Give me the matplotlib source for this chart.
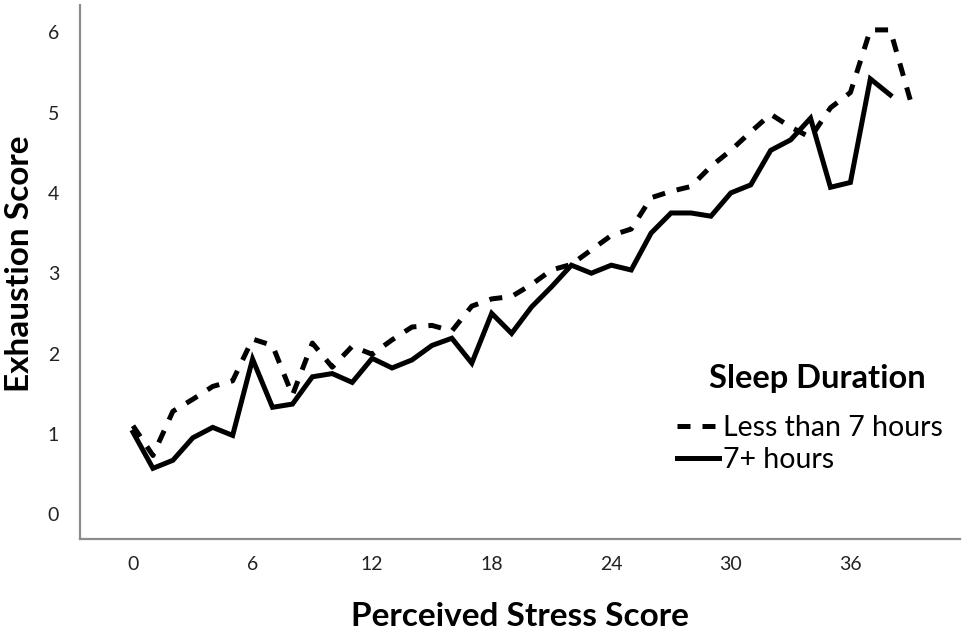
import matplotlib
matplotlib.use("Agg")
import matplotlib.pyplot as plt

plt.rcParams['font.family'] = ['Lato', 'DejaVu Sans']

# Data
stress_less7 = list(range(0, 40))
exhaust_less7 = [1.10, 0.73, 1.28, 1.43, 1.59, 1.66, 2.18, 2.10, 1.48, 2.13,
                 1.83, 2.09, 1.99, 2.17, 2.33, 2.35, 2.28, 2.59, 2.68, 2.71,
                 2.86, 3.04, 3.11, 3.29, 3.47, 3.55, 3.94, 4.02, 4.08, 4.33,
                 4.53, 4.76, 4.98, 4.82, 4.69, 5.06, 5.25, 6.03, 6.03, 5.16]

stress_7plus = list(range(0, 39))
exhaust_7plus = [1.02, 0.57, 0.67, 0.95, 1.08, 0.98, 1.93, 1.33, 1.37, 1.71,
                 1.75, 1.64, 1.94, 1.82, 1.92, 2.10, 2.19, 1.88, 2.50, 2.25,
                 2.58, 2.83, 3.10, 3.00, 3.10, 3.04, 3.50, 3.75, 3.75, 3.71,
                 4.00, 4.10, 4.53, 4.66, 4.93, 4.07, 4.13, 5.42, 5.22]

series_labels = ["Less than 7 hours", "7+ hours"]
legend_title = "Sleep Duration"
x_ticks = [0, 6, 12, 18, 24, 30, 36]
y_ticks = [0, 1, 2, 3, 4, 5, 6]

fig = plt.figure(figsize=(9.69, 6.38), dpi=100)
ax = fig.add_axes([80/969, (638-539)/638, 880/969, 534/638])

ax.plot(stress_less7, exhaust_less7, color='black', lw=3.6,
        linestyle=(0, (2.6, 2.4)), dash_capstyle='butt', solid_joinstyle='miter',
        label=series_labels[0])
ax.plot(stress_7plus, exhaust_7plus, color='black', lw=3.6, linestyle='-',
        solid_joinstyle='miter', label=series_labels[1])

ax.set_xlim(-2.66, 41.5)
ax.set_ylim(-0.31, 6.34)
ax.set_xticks(x_ticks)
ax.set_yticks(y_ticks)
ax.tick_params(axis='both', length=0, labelsize=14, colors='#222222')
ax.tick_params(axis='x', pad=12)
ax.tick_params(axis='y', pad=15)

for s in ['top', 'right']:
    ax.spines[s].set_visible(False)
for s in ['left', 'bottom']:
    ax.spines[s].set_color('#8c8c8c')
    ax.spines[s].set_linewidth(1.6)

ax.set_xlabel("Perceived Stress Score", fontsize=24, fontweight='bold')
ax.set_ylabel("Exhaustion Score", fontsize=24, fontweight='bold')
ax.xaxis.set_label_coords(0.5, -0.118)
ax.yaxis.set_label_coords(-0.052, 0.515)

leg = ax.legend(loc='center left', bbox_to_anchor=(0.678, 0.178), frameon=False,
                fontsize=20.5, handlelength=1.5, handletextpad=0.12,
                borderpad=0, borderaxespad=0, labelspacing=0.2)
ax.text(0.838, 0.2828, legend_title, transform=ax.transAxes, ha='center',
        va='baseline', fontsize=23.5, fontweight='bold')

fig.savefig("out.png", dpi=100)
